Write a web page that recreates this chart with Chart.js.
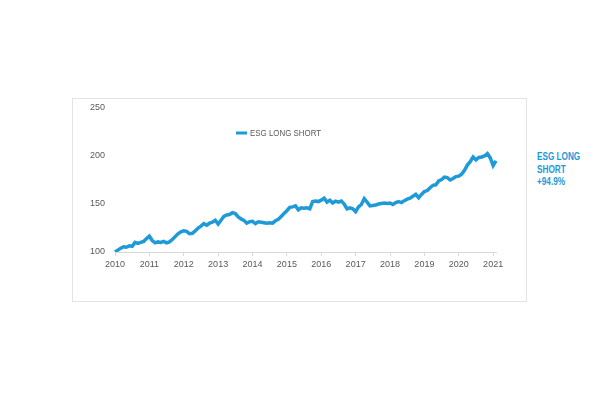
<!DOCTYPE html>
<html>
<head>
<meta charset="utf-8">
<script src="https://cdn.jsdelivr.net/npm/chart.js@4"></script>
<style>
  html, body { margin: 0; padding: 0; background: #fff; }
  body { width: 600px; height: 400px; position: relative; overflow: hidden; }
  #frame {
    position: absolute; left: 72px; top: 98px; width: 455px; height: 204px;
    border: 1px solid #e4e4e4; box-sizing: border-box;
  }
  #frame canvas { display: block; }
  #note {
    position: absolute; left: 537px; top: 150px;
    font-family: "Liberation Sans", sans-serif;
    font-weight: bold; font-size: 10.5px; line-height: 12.5px; color: #1a9ad6;
    transform: scaleX(0.78); transform-origin: left top;
  }
</style>
</head>
<body>
<div id="frame"><canvas id="esgChart" width="453" height="202"></canvas></div>
<div id="note">ESG LONG<br>SHORT<br>+94.9%</div>
<script>
// year ticks on the x axis, monthly points from Jan 2010 to Feb 2021
const years = ["2010", "2011", "2012", "2013", "2014", "2015", "2016", "2017", "2018", "2019", "2020", "2021"];
const monthsLastYear = 2; // Jan + Feb 2021

// index values, one per month
const esg2010 = [100, 102, 104, 105.5, 105, 106.5, 106, 110, 109, 110, 111, 114];
const esg2011 = [116.5, 112, 109.5, 110.5, 110, 111, 109.5, 110.5, 113, 116, 119, 121];
const esg2012 = [122, 121.5, 119, 119.5, 122, 125, 127, 129.5, 128, 130, 131, 133];
const esg2013 = [129, 133, 137, 138.5, 139, 141, 140, 136.5, 134.5, 133, 130, 131.5];
const esg2014 = [132, 129.5, 131.5, 131, 130.5, 130, 130.5, 130, 132.5, 134, 137, 140];
const esg2015 = [143, 146.5, 147, 148, 144, 146, 145.5, 146, 145, 152.5, 153, 152.5];
const esg2016 = [154, 156, 152, 154, 151, 153, 152, 153, 150, 145, 146, 145];
const esg2017 = [142, 147, 149.5, 155.5, 152, 148, 148.5, 149, 150, 150.5, 151, 150.5];
const esg2018 = [151, 149.5, 151.5, 152.5, 151.5, 153.5, 155, 156, 158, 160, 156.5, 160];
const esg2019 = [163, 164, 167, 169.5, 170, 174, 175.5, 178, 177.5, 175, 176.5, 178.5];
const esg2020 = [179, 181, 185, 190.5, 194, 199, 196, 198.5, 199, 200, 202.5, 198];
const esg2021 = [190, 194.9];

const esgValues = [].concat(esg2010, esg2011, esg2012, esg2013, esg2014, esg2015,
  esg2016, esg2017, esg2018, esg2019, esg2020, esg2021);

// month labels like "2010-01"
const labels = [];
years.forEach((y, i) => {
  const n = i === years.length - 1 ? monthsLastYear : 12;
  for (let m = 1; m <= n; m++) labels.push(y + "-" + String(m).padStart(2, "0"));
});

const lineColor = "#1f9ad8";
const textColor = "#595959";
const axisColor = "#d9d9d9";

// legend drawn inside the plot, Excel style
const innerLegend = {
  id: "innerLegend",
  afterDraw(chart) {
    const ctx = chart.ctx;
    const ds = chart.data.datasets[0];
    const x = 163, y = 34;
    ctx.save();
    ctx.strokeStyle = ds.borderColor;
    ctx.lineWidth = 3;
    ctx.beginPath();
    ctx.moveTo(x, y);
    ctx.lineTo(x + 11, y);
    ctx.stroke();
    ctx.fillStyle = textColor;
    ctx.font = "9px 'Liberation Sans', sans-serif";
    ctx.textBaseline = "middle";
    ctx.translate(x + 14, y + 0.5);
    ctx.scale(0.88, 1);
    ctx.fillText(ds.label, 0, 0);
    ctx.restore();
  },
};

new Chart(document.getElementById("esgChart"), {
  type: "line",
  data: {
    labels,
    datasets: [
      {
        label: "ESG LONG SHORT",
        data: esgValues,
        borderColor: lineColor,
        borderWidth: 3.5,
        pointRadius: 0,
        tension: 0,
        fill: false,
      },
    ],
  },
  options: {
    responsive: false,
    animation: false,
    layout: { padding: { top: 9, right: 30, left: 0, bottom: 0 } },
    plugins: {
      legend: { display: false },
      tooltip: { enabled: false },
    },
    scales: {
      x: {
        type: "category",
        offset: false,
        afterFit: (s) => { s.height = 49; },
        border: { display: true, color: axisColor },
        grid: {
          drawOnChartArea: false,
          drawTicks: true,
          tickLength: 4,
          color: (c) => (c.index % 12 === 0 ? axisColor : "rgba(0,0,0,0)"),
        },
        ticks: {
          autoSkip: false,
          maxRotation: 0,
          padding: 3,
          color: textColor,
          font: { family: "'Liberation Sans', sans-serif", size: 9 },
          callback: function (v, i) {
            const l = this.getLabelForValue(v);
            return l.endsWith("-01") ? l.slice(0, 4) : "";
          },
        },
      },
      y: {
        min: 100,
        max: 250,
        afterFit: (s) => { s.width = 42; },
        border: { display: false },
        grid: { display: false },
        ticks: {
          stepSize: 50,
          padding: 2,
          color: textColor,
          font: { family: "'Liberation Sans', sans-serif", size: 9 },
        },
      },
    },
  },
  plugins: [innerLegend],
});
</script>
</body>
</html>
